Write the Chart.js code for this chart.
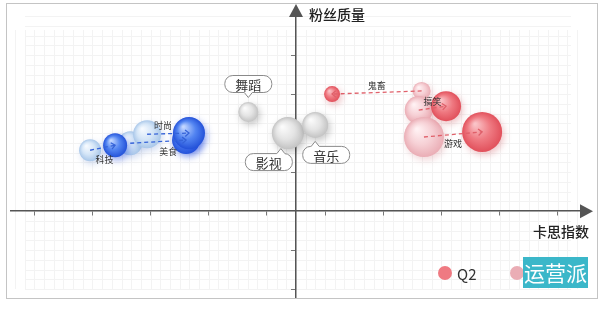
<!DOCTYPE html>
<html>
<head>
<meta charset="utf-8">
<script src="https://cdn.jsdelivr.net/npm/chart.js@4.4.1/dist/chart.umd.min.js"></script>
<style>
  html, body { margin: 0; padding: 0; background: #fff; }
  #wrap { position: relative; width: 600px; height: 310px; }
</style>
</head>
<body>
<div id="wrap"><canvas id="chart" width="600" height="310"></canvas></div>
<script>
// categories and their colour group
const categories = ['科技', '美食', '时尚', '舞蹈', '影视', '音乐', '鬼畜', '搞笑', '游戏'];
const groups = ['blue', 'blue', 'blue', 'gray', 'gray', 'gray', 'red', 'red', 'red'];

// x = 卡思指数, y = 粉丝质量, size = bubble size
const q1X = [-3.54, -2.85, -2.56, null, null, null, 2.16, 2.11, 2.20];
const q1Y = [1.56, 1.74, 1.97, null, null, null, 3.08, 2.59, 1.90];
const q1Size = [11, 12, 14, null, null, null, 9, 14, 20];
const q2X = [-3.11, -1.89, -1.84, -0.82, -0.14, 0.33, 0.62, 2.58, 3.20];
const q2Y = [1.69, 1.82, 2.00, 2.54, 2.00, 2.21, 3.00, 2.69, 2.03];
const q2Size = [12, 14, 16, 10, 16, 13, 8, 15, 20];

const xTicks = [-4.5, -3.5, -2.5, -1.5, -0.5, 0.5, 1.5, 2.5, 3.5, 4.5];
const yTicks = [-2, -1, 1, 2, 3, 4];
const legendLabels = ['Q2', 'Q1'];

const FONT = '"Noto Sans CJK SC", "Noto Sans", sans-serif';

// sphere colours: highlight, body, rim
const palette = {
    blue: { q1: ['#f6faff', '#d4e5f7', '#a9c7e9'], q2: ['#c2d6ff', '#5284f1', '#2452d9'],
            shadow: 'rgba(30,70,220,0.45)', arrow: '#3563d8' },
    gray: { q2: ['#fbfbfb', '#e4e4e4', '#c3c3c3'], shadow: 'rgba(0,0,0,0.22)' },
    red:  { q1: ['#fff1f3', '#f6d0d5', '#eaadb5'], q2: ['#fac3c7', '#ef7a82', '#e1505b'],
            shadow: 'rgba(200,60,70,0.30)', arrow: '#e0606a' }
};

// small tags next to the arrows, and speech-bubble callouts for the gray ones
const tagOffset = { '科技': [2, 12], '美食': [10, 10], '时尚': [-5, -8], '鬼畜': [0, -7], '搞笑': [0, -7], '游戏': [0, 9] };
const callout = { '舞蹈': { dx: 0, dy: -28, tip: 'down', px: 0 },
                  '影视': { dx: -19, dy: 29, tip: 'up', px: -7 },
                  '音乐': { dx: 11, dy: 30, tip: 'up', px: 0 } };

function points(xs, ys, ss, g) {
    const out = [];
    categories.forEach((c, i) => {
        if (groups[i] === g && xs[i] !== null) out.push({ x: xs[i], y: ys[i], r: ss[i], cat: c });
    });
    return out;
}

function sphere(cols) {
    return function (c) {
        const chart = c.chart;
        const raw = c.raw;
        if (!raw || !chart.scales.x || !chart.scales.y) return cols[1];
        const x = chart.scales.x.getPixelForValue(raw.x);
        const y = chart.scales.y.getPixelForValue(raw.y);
        const r = raw.r;
        if (!Number.isFinite(x) || !Number.isFinite(y)) return cols[1];
        const g = chart.ctx.createRadialGradient(x - r * 0.35, y - r * 0.4, r * 0.05, x, y, r);
        g.addColorStop(0, cols[0]);
        g.addColorStop(0.55, cols[1]);
        g.addColorStop(1, cols[2]);
        return g;
    };
}

function makeSet(label, data, cols, shadow, order) {
    return { label: label, data: data, backgroundColor: sphere(cols), borderWidth: 0,
             shadowColor: shadow, order: order };
}

const datasets = [
    makeSet('Q2 蓝', points(q2X, q2Y, q2Size, 'blue'), palette.blue.q2, palette.blue.shadow, 1),
    makeSet('Q2 灰', points(q2X, q2Y, q2Size, 'gray'), palette.gray.q2, palette.gray.shadow, 1),
    makeSet('Q2 红', points(q2X, q2Y, q2Size, 'red'), palette.red.q2, palette.red.shadow, 1),
    makeSet('Q1 蓝', points(q1X, q1Y, q1Size, 'blue'), palette.blue.q1, 'rgba(80,120,200,0.25)', 2),
    makeSet('Q1 红', points(q1X, q1Y, q1Size, 'red'), palette.red.q1, 'rgba(200,90,100,0.25)', 2)
];

function drawArrow(ctx, x1, y1, x2, y2, color) {
    ctx.save();
    ctx.strokeStyle = color;
    ctx.lineWidth = 1.3;
    ctx.setLineDash([4, 3]);
    ctx.beginPath(); ctx.moveTo(x1, y1); ctx.lineTo(x2, y2); ctx.stroke();
    ctx.setLineDash([]);
    const a = Math.atan2(y2 - y1, x2 - x1);
    ctx.beginPath();
    ctx.moveTo(x2 - 5 * Math.cos(a - 0.7), y2 - 5 * Math.sin(a - 0.7));
    ctx.lineTo(x2, y2);
    ctx.lineTo(x2 - 5 * Math.cos(a + 0.7), y2 - 5 * Math.sin(a + 0.7));
    ctx.stroke();
    ctx.restore();
}

function drawCallout(ctx, cx, cy, px, tip, text) {
    const w = 47, h = 17, l = cx - w / 2, t = cy - h / 2;
    ctx.save();
    ctx.fillStyle = '#fff';
    ctx.strokeStyle = '#8a8a8a';
    ctx.lineWidth = 1;
    ctx.beginPath();
    ctx.roundRect(l, t, w, h, 8);
    ctx.fill(); ctx.stroke();
    const edge = tip === 'down' ? t + h : t;
    const s = tip === 'down' ? 1 : -1;
    ctx.beginPath();
    ctx.moveTo(px - 4, edge - s * 1.5);
    ctx.lineTo(px - 4, edge);
    ctx.lineTo(px, edge + s * 5);
    ctx.lineTo(px + 4, edge);
    ctx.lineTo(px + 4, edge - s * 1.5);
    ctx.closePath();
    ctx.fill();
    ctx.beginPath();
    ctx.moveTo(px - 4, edge); ctx.lineTo(px, edge + s * 5); ctx.lineTo(px + 4, edge);
    ctx.stroke();
    ctx.fillStyle = '#333';
    ctx.font = '13px ' + FONT;
    ctx.textAlign = 'center';
    ctx.textBaseline = 'middle';
    ctx.fillText(text, cx, cy + 1);
    ctx.restore();
}

const decor = {
    id: 'decor',
    beforeDraw(chart) {
        // faint background grid
        const { ctx, chartArea: a, scales: { x, y } } = chart;
        ctx.save();
        ctx.strokeStyle = '#f3f3f3';
        ctx.lineWidth = 1;
        ctx.beginPath();
        for (let k = Math.ceil(x.min * 6); k <= x.max * 6; k++) {
            const p = Math.round(x.getPixelForValue(k / 6)) + 0.5;
            ctx.moveTo(p, a.top + 14); ctx.lineTo(p, a.bottom - 8);
        }
        for (let k = Math.ceil(y.min * 4); k <= y.max * 4; k++) {
            const p = Math.round(y.getPixelForValue(k / 4)) + 0.5;
            ctx.moveTo(a.left + 14, p); ctx.lineTo(a.right - 10, p);
        }
        ctx.stroke();
        ctx.restore();
    },
    beforeDatasetDraw(chart, args) {
        const ctx = chart.ctx;
        ctx.save();
        ctx.shadowColor = args.meta._dataset.shadowColor || 'rgba(0,0,0,0.2)';
        ctx.shadowBlur = 7;
        ctx.shadowOffsetX = 2;
        ctx.shadowOffsetY = 3;
    },
    afterDatasetDraw(chart) {
        chart.ctx.restore();
    },
    afterDatasetsDraw(chart) {
        const { ctx, scales: { x, y } } = chart;
        categories.forEach((c, i) => {
            const g = groups[i];
            const bx = x.getPixelForValue(q2X[i]), by = y.getPixelForValue(q2Y[i]);
            if (q1X[i] !== null) {
                const ax = x.getPixelForValue(q1X[i]), ay = y.getPixelForValue(q1Y[i]);
                drawArrow(ctx, ax, ay, bx, by, palette[g].arrow);
                const off = tagOffset[c];
                ctx.save();
                ctx.fillStyle = '#333';
                ctx.font = '9px ' + FONT;
                ctx.textAlign = 'center';
                ctx.textBaseline = 'middle';
                ctx.fillText(c, (ax + bx) / 2 + off[0], (ay + by) / 2 + off[1]);
                ctx.restore();
            } else if (callout[c]) {
                const o = callout[c];
                drawCallout(ctx, bx + o.dx, by + o.dy, bx + o.px, o.tip, c);
            }
        });
    },
    afterDraw(chart) {
        const { ctx, chartArea: a, scales: { x, y } } = chart;
        const x0 = x.getPixelForValue(0), y0 = y.getPixelForValue(0);
        ctx.save();
        // axis arrow heads
        ctx.fillStyle = '#555';
        ctx.beginPath();
        ctx.moveTo(a.right - 1, y0 - 7); ctx.lineTo(a.right + 12, y0); ctx.lineTo(a.right - 1, y0 + 7);
        ctx.closePath(); ctx.fill();
        ctx.beginPath();
        ctx.moveTo(x0 - 7, a.top + 1); ctx.lineTo(x0, a.top - 12); ctx.lineTo(x0 + 7, a.top + 1);
        ctx.closePath(); ctx.fill();
        // axis titles
        ctx.fillStyle = '#222';
        ctx.font = '500 14px ' + FONT;
        ctx.textBaseline = 'middle';
        ctx.textAlign = 'left';
        ctx.fillText('粉丝质量', x0 + 13, a.top - 1);
        ctx.textAlign = 'right';
        ctx.fillText('卡思指数', a.right + 8, y0 + 21);
        // legend
        const lx = [a.right - 136, a.right - 64];
        const lc = [palette.red.q2[1], palette.red.q1[2]];
        legendLabels.forEach((t, i) => {
            ctx.fillStyle = lc[i];
            ctx.beginPath(); ctx.arc(lx[i], a.bottom - 24, 7, 0, Math.PI * 2); ctx.fill();
            ctx.fillStyle = '#333';
            ctx.font = '15px ' + FONT;
            ctx.textAlign = 'left';
            ctx.fillText(t, lx[i] + 12, a.bottom - 23);
        });
        // watermark
        ctx.fillStyle = '#3bb7c9';
        ctx.fillRect(a.right - 58, a.bottom - 40, 65, 31);
        ctx.fillStyle = '#fff';
        ctx.font = '21px ' + FONT;
        ctx.textAlign = 'center';
        ctx.fillText('运营派', a.right - 25.5, a.bottom - 24);
        // frame
        ctx.strokeStyle = '#c4c4c4';
        ctx.lineWidth = 1;
        ctx.strokeRect(6.5, 3.5, 591, 295);
        ctx.restore();
    }
};

new Chart(document.getElementById('chart'), {
    type: 'bubble',
    data: { datasets: datasets },
    options: {
        responsive: false,
        animation: false,
        events: [],
        layout: { autoPadding: false, padding: { left: 11, right: 19, top: 16, bottom: 13 } },
        plugins: { legend: { display: false }, tooltip: { enabled: false } },
        scales: {
            x: {
                type: 'linear', min: -4.9, max: 4.9,
                position: { y: 0 },
                afterBuildTicks: s => { s.ticks = xTicks.map(v => ({ value: v })); },
                ticks: { display: false },
                grid: { drawOnChartArea: false, tickLength: 4, color: '#777' },
                border: { color: '#555', width: 1.5 }
            },
            y: {
                type: 'linear', min: -2.2, max: 5.0,
                position: { x: 0 },
                afterBuildTicks: s => { s.ticks = yTicks.map(v => ({ value: v })); },
                ticks: { display: false },
                grid: { drawOnChartArea: false, tickLength: 4, color: '#777' },
                border: { color: '#555', width: 1.5 }
            }
        }
    },
    plugins: [decor]
});
</script>
</body>
</html>
